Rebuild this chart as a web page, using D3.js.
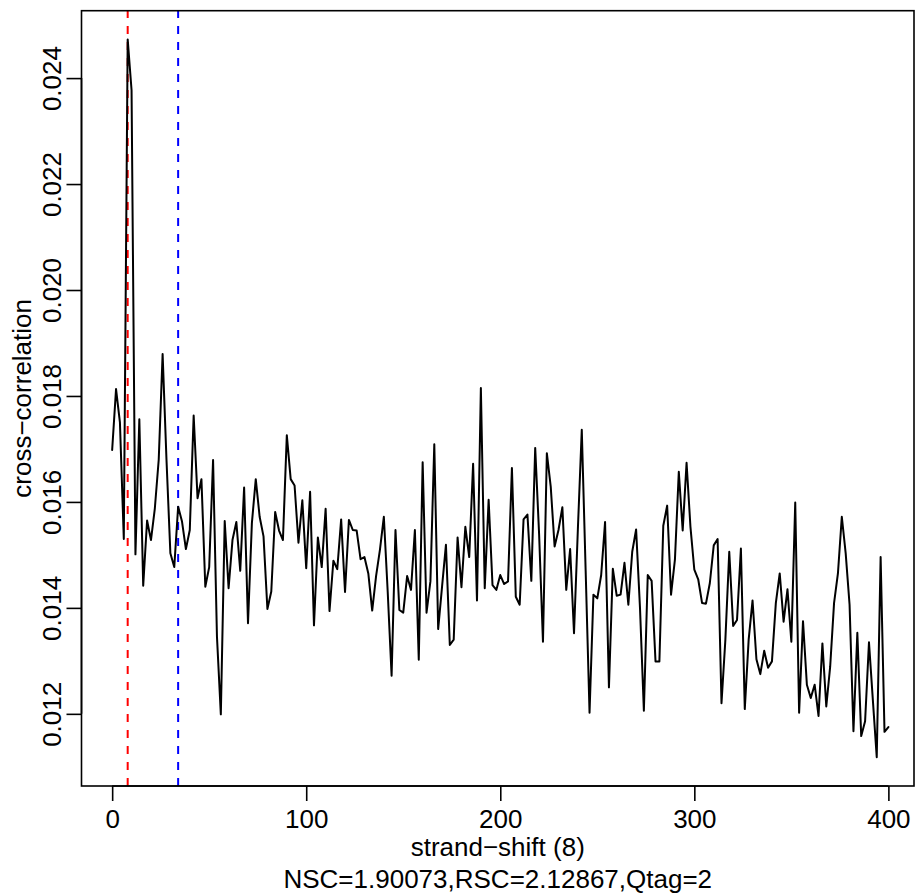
<!DOCTYPE html>
<html>
<head>
<meta charset="utf-8">
<script src="https://cdn.jsdelivr.net/npm/d3@7"></script>
<style>
  html, body { margin: 0; padding: 0; background: #fff; }
  svg { display: block; }
  text { font-family: "Liberation Sans", Arial, Helvetica, sans-serif; fill: #000; }
</style>
</head>
<body>
<svg id="chart" width="919" height="895"></svg>
<script>
// ---- data ----
const shiftStep = 2;
const shifts = d3.range(0, 401, shiftStep);
const crossCorrelation = [
  0.01698, 0.01813, 0.01750, 0.01530, 0.02473, 0.02377, 0.01501, 0.01756, 0.01442, 0.01565,
  0.01528, 0.01588, 0.01680, 0.01879, 0.01679, 0.01503, 0.01477, 0.01591, 0.01563, 0.01511,
  0.01547, 0.01763, 0.01607, 0.01643, 0.01440, 0.01477, 0.01679, 0.01346, 0.01199, 0.01564,
  0.01437, 0.01528, 0.01562, 0.01470, 0.01627, 0.01371, 0.01560, 0.01643, 0.01572, 0.01535,
  0.01398, 0.01431, 0.01581, 0.01546, 0.01528, 0.01726, 0.01643, 0.01631, 0.01523, 0.01603,
  0.01475, 0.01619, 0.01367, 0.01533, 0.01477, 0.01587, 0.01394, 0.01489, 0.01473, 0.01567,
  0.01430, 0.01566, 0.01547, 0.01546, 0.01492, 0.01496, 0.01465, 0.01395, 0.01460, 0.01510,
  0.01572, 0.01430, 0.01272, 0.01547, 0.01396, 0.01391, 0.01460, 0.01434, 0.01547, 0.01302,
  0.01675, 0.01391, 0.01450, 0.01709, 0.01360, 0.01440, 0.01519, 0.01330, 0.01340, 0.01533,
  0.01439, 0.01553, 0.01496, 0.01672, 0.01414, 0.01815, 0.01437, 0.01604, 0.01443, 0.01434,
  0.01462, 0.01445, 0.01450, 0.01664, 0.01421, 0.01406, 0.01567, 0.01576, 0.01451, 0.01702,
  0.01540, 0.01336, 0.01692, 0.01629, 0.01516, 0.01547, 0.01590, 0.01434, 0.01511, 0.01352,
  0.01550, 0.01736, 0.01470, 0.01202, 0.01425, 0.01418, 0.01462, 0.01562, 0.01250, 0.01474,
  0.01423, 0.01425, 0.01485, 0.01406, 0.01506, 0.01548, 0.01400, 0.01206, 0.01462, 0.01451,
  0.01299, 0.01299, 0.01555, 0.01593, 0.01425, 0.01491, 0.01657, 0.01546, 0.01674, 0.01553,
  0.01472, 0.01454, 0.01409, 0.01408, 0.01447, 0.01518, 0.01530, 0.01220, 0.01340, 0.01506,
  0.01366, 0.01377, 0.01512, 0.01209, 0.01340, 0.01414, 0.01303, 0.01275, 0.01319, 0.01287,
  0.01299, 0.01409, 0.01465, 0.01374, 0.01435, 0.01336, 0.01599, 0.01202, 0.01375, 0.01255,
  0.01230, 0.01255, 0.01196, 0.01333, 0.01214, 0.01289, 0.01409, 0.01465, 0.01572, 0.01503,
  0.01406, 0.01167, 0.01353, 0.01158, 0.01186, 0.01335, 0.01226, 0.01118, 0.01496, 0.01166,
  0.01175
];
const readLengthShift = 8;     // red dashed line
const fragmentShift = 34;      // blue dashed line
const xTicks = [0, 100, 200, 300, 400];
const yTicks = [0.012, 0.014, 0.016, 0.018, 0.020, 0.022, 0.024];
const xLabel = "strand\u2212shift (8)";
const yLabel = "cross\u2212correlation";
const subLabel = "NSC=1.90073,RSC=2.12867,Qtag=2";

// ---- layout ----
const box = { left: 81.5, right: 914, top: 10.7, bottom: 786 };
const fontSize = 26;

const svg = d3.select("#chart");

const x = d3.scaleLinear().domain([-15.8, 413.2]).range([box.left, box.right]);
const y = d3.scaleLinear().domain([0.010638, 0.025272]).range([box.bottom, box.top]);

// vertical reference lines (dashed)
[[readLengthShift, "#ff0000"], [fragmentShift, "#0000ff"]].forEach(([v, c]) => {
  svg.append("line")
    .attr("x1", x(v)).attr("x2", x(v))
    .attr("y1", box.bottom).attr("y2", box.top)
    .attr("stroke", c).attr("stroke-width", 2)
    .attr("stroke-dasharray", "8,8");
});

// data line
const pts = shifts.map((s, i) => [s, crossCorrelation[i]]);
svg.append("path")
  .datum(pts)
  .attr("fill", "none")
  .attr("stroke", "#000")
  .attr("stroke-width", 2)
  .attr("stroke-linejoin", "round")
  .attr("stroke-linecap", "round")
  .attr("d", d3.line().x(d => x(d[0])).y(d => y(d[1])));

// box
svg.append("rect")
  .attr("x", box.left).attr("y", box.top)
  .attr("width", box.right - box.left).attr("height", box.bottom - box.top)
  .attr("fill", "none").attr("stroke", "#000").attr("stroke-width", 1.6);

// x axis
const xAxis = d3.axisBottom(x).tickValues(xTicks).tickSize(15).tickPadding(7)
  .tickFormat(d3.format("d"));
const gx = svg.append("g").attr("transform", `translate(0,${box.bottom})`).call(xAxis);
gx.select(".domain").attr("d", `M${x(xTicks[0])},0H${x(xTicks[xTicks.length-1])}`)
  .attr("stroke", "#000").attr("stroke-width", 1.6);
gx.selectAll(".tick line").attr("stroke", "#000").attr("stroke-width", 1.6);
gx.selectAll(".tick text")
  .attr("font-size", fontSize)
  .attr("font-family", "Liberation Sans, Arial, sans-serif")
  .attr("dy", null)
  .attr("y", 828 - box.bottom);

// y axis
const yAxis = d3.axisLeft(y).tickValues(yTicks).tickSize(15)
  .tickFormat(d3.format(".3f"));
const gy = svg.append("g").attr("transform", `translate(${box.left},0)`).call(yAxis);
gy.select(".domain").attr("d", `M0,${y(yTicks[0])}V${y(yTicks[yTicks.length-1])}`)
  .attr("stroke", "#000").attr("stroke-width", 1.6);
gy.selectAll(".tick line").attr("stroke", "#000").attr("stroke-width", 1.6);
gy.selectAll(".tick text")
  .attr("font-size", fontSize)
  .attr("font-family", "Liberation Sans, Arial, sans-serif")
  .attr("x", null).attr("dy", null)
  .attr("text-anchor", "middle")
  .attr("transform", `translate(${60.7 - box.left},0) rotate(-90)`);

// axis titles
const cx = (box.left + box.right) / 2;
svg.append("text")
  .attr("x", cx).attr("y", 856)
  .attr("text-anchor", "middle").attr("font-size", fontSize)
  .text(xLabel);
svg.append("text")
  .attr("x", cx).attr("y", 888)
  .attr("text-anchor", "middle").attr("font-size", fontSize)
  .text(subLabel);
svg.append("text")
  .attr("transform", `translate(31,${(box.top + box.bottom) / 2}) rotate(-90)`)
  .attr("text-anchor", "middle").attr("font-size", fontSize)
  .text(yLabel);
</script>
</body>
</html>
